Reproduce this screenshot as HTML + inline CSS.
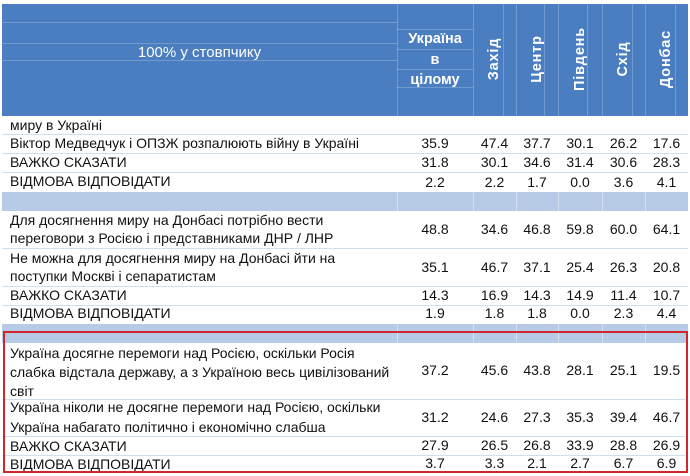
<!DOCTYPE html>
<html>
<head>
<meta charset="utf-8">
<style>
  html,body{margin:0;padding:0;}
  body{width:690px;height:476px;background:#fff;position:relative;overflow:hidden;
       font-family:"Liberation Sans","Noto Sans CJK SC",Arial,sans-serif;color:#111;}
  .a{position:absolute;}
  .hdr{left:2px;top:4px;width:686px;height:112px;background:#4a7ec0;}
  .hl{position:absolute;height:1px;background:rgba(255,255,255,0.22);}
  .vl{position:absolute;width:1px;top:4px;height:112px;background:rgba(255,255,255,0.22);}
  .line{position:absolute;left:2px;width:686px;height:1px;background:#d3deec;}
  .band{position:absolute;left:2px;width:686px;height:19px;background:#b7cbe6;}
  .bv{position:absolute;width:1px;height:19px;background:#d5e1f1;}
  .t{position:absolute;left:10px;height:19px;line-height:19px;font-size:14px;white-space:nowrap;}
  .v{position:absolute;height:19px;line-height:19px;font-size:14px;text-align:center;white-space:nowrap;}
  .c1{left:397px;width:76px;} .c2{left:473px;width:43px;} .c3{left:516px;width:42px;}
  .c4{left:558px;width:44px;} .c5{left:602px;width:43px;} .c6{left:645px;width:43px;}
  .ht{position:absolute;color:#fff;white-space:nowrap;}
  .rot{position:absolute;color:#fff;font-weight:bold;font-size:14.5px;letter-spacing:0.8px;white-space:nowrap;
       transform:translate(-50%,-50%) rotate(-90deg);top:59px;line-height:16px;}
  .red{position:absolute;left:3px;top:331px;width:685px;height:142px;box-sizing:border-box;border:2px solid #d3262c;}
</style>
</head>
<body>
<div class="a hdr"></div>
<!-- header faint grid -->
<div class="hl" style="left:2px;width:395px;top:22px;"></div>
<div class="hl" style="left:2px;width:395px;top:43px;"></div>
<div class="hl" style="left:2px;width:395px;top:60px;"></div>
<div class="hl" style="left:397px;width:76px;top:29px;"></div>
<div class="hl" style="left:397px;width:76px;top:49px;"></div>
<div class="hl" style="left:397px;width:76px;top:69px;"></div>
<div class="hl" style="left:397px;width:76px;top:87px;"></div>
<div class="vl" style="left:397px;"></div>
<div class="vl" style="left:473px;"></div>
<div class="vl" style="left:503px;"></div>
<div class="vl" style="left:516px;"></div>
<div class="vl" style="left:544px;"></div>
<div class="vl" style="left:558px;"></div>
<div class="vl" style="left:587px;"></div>
<div class="vl" style="left:602px;"></div>
<div class="vl" style="left:632px;"></div>
<div class="vl" style="left:645px;"></div>
<div class="vl" style="left:675px;"></div>

<div class="ht" style="left:2px;width:395px;top:44px;line-height:18px;text-align:center;font-size:15px;">100% у стовпчику</div>
<div class="ht" style="left:397px;width:76px;top:29px;line-height:20.5px;text-align:center;font-size:14.5px;font-weight:bold;">Україна<br>в<br>цілому</div>
<div class="rot" style="left:494px;">Захід</div>
<div class="rot" style="left:537px;">Центр</div>
<div class="rot" style="left:580px;">Південь</div>
<div class="rot" style="left:623px;">Схід</div>
<div class="rot" style="left:666px;">Донбас</div>

<!-- row lines -->
<div class="line" style="top:134px;"></div>
<div class="line" style="top:153px;"></div>
<div class="line" style="top:172px;"></div>
<div class="line" style="top:248px;"></div>
<div class="line" style="top:286px;"></div>
<div class="line" style="top:305px;"></div>
<div class="line" style="top:399px;"></div>
<div class="line" style="top:436px;"></div>
<div class="line" style="top:455px;"></div>

<!-- bands -->
<div class="band" style="top:192px;"></div>
<div class="band" style="top:324px;"></div>
<div class="bv" style="left:397px;top:192px;"></div><div class="bv" style="left:473px;top:192px;"></div>
<div class="bv" style="left:516px;top:192px;"></div><div class="bv" style="left:558px;top:192px;"></div>
<div class="bv" style="left:602px;top:192px;"></div><div class="bv" style="left:645px;top:192px;"></div>
<div class="bv" style="left:397px;top:324px;"></div><div class="bv" style="left:473px;top:324px;"></div>
<div class="bv" style="left:516px;top:324px;"></div><div class="bv" style="left:558px;top:324px;"></div>
<div class="bv" style="left:602px;top:324px;"></div><div class="bv" style="left:645px;top:324px;"></div>

<!-- labels -->
<div class="t" style="top:115.5px;">миру в Україні</div>
<div class="t" style="top:134px;">Віктор Медведчук і ОПЗЖ розпалюють війну в Україні</div>
<div class="t" style="top:153px;">ВАЖКО СКАЗАТИ</div>
<div class="t" style="top:172px;">ВІДМОВА ВІДПОВІДАТИ</div>
<div class="t" style="top:211px;">Для досягнення миру на Донбасі потрібно вести</div>
<div class="t" style="top:229px;">переговори з Росією і представниками ДНР / ЛНР</div>
<div class="t" style="top:249px;">Не можна для досягнення миру на Донбасі йти на</div>
<div class="t" style="top:267px;">поступки Москві і сепаратистам</div>
<div class="t" style="top:286px;">ВАЖКО СКАЗАТИ</div>
<div class="t" style="top:304px;">ВІДМОВА ВІДПОВІДАТИ</div>
<div class="t" style="top:343.5px;">Україна досягне перемоги над Росією, оскільки Росія</div>
<div class="t" style="top:362.5px;">слабка відстала державу, а з Україною весь цивілізований</div>
<div class="t" style="top:381.5px;">світ</div>
<div class="t" style="top:397.5px;">Україна ніколи не досягне перемоги над Росією, оскільки</div>
<div class="t" style="top:417.5px;">Україна набагато політично і економічно слабша</div>
<div class="t" style="top:436.5px;">ВАЖКО СКАЗАТИ</div>
<div class="t" style="top:454.5px;">ВІДМОВА ВІДПОВІДАТИ</div>

<!-- values -->
<div class="v c1" style="top:134px;">35.9</div><div class="v c2" style="top:134px;">47.4</div><div class="v c3" style="top:134px;">37.7</div><div class="v c4" style="top:134px;">30.1</div><div class="v c5" style="top:134px;">26.2</div><div class="v c6" style="top:134px;">17.6</div>
<div class="v c1" style="top:153px;">31.8</div><div class="v c2" style="top:153px;">30.1</div><div class="v c3" style="top:153px;">34.6</div><div class="v c4" style="top:153px;">31.4</div><div class="v c5" style="top:153px;">30.6</div><div class="v c6" style="top:153px;">28.3</div>
<div class="v c1" style="top:172.5px;">2.2</div><div class="v c2" style="top:172.5px;">2.2</div><div class="v c3" style="top:172.5px;">1.7</div><div class="v c4" style="top:172.5px;">0.0</div><div class="v c5" style="top:172.5px;">3.6</div><div class="v c6" style="top:172.5px;">4.1</div>

<div class="v c1" style="top:219.5px;">48.8</div><div class="v c2" style="top:219.5px;">34.6</div><div class="v c3" style="top:219.5px;">46.8</div><div class="v c4" style="top:219.5px;">59.8</div><div class="v c5" style="top:219.5px;">60.0</div><div class="v c6" style="top:219.5px;">64.1</div>
<div class="v c1" style="top:257.5px;">35.1</div><div class="v c2" style="top:257.5px;">46.7</div><div class="v c3" style="top:257.5px;">37.1</div><div class="v c4" style="top:257.5px;">25.4</div><div class="v c5" style="top:257.5px;">26.3</div><div class="v c6" style="top:257.5px;">20.8</div>
<div class="v c1" style="top:285.5px;">14.3</div><div class="v c2" style="top:285.5px;">16.9</div><div class="v c3" style="top:285.5px;">14.3</div><div class="v c4" style="top:285.5px;">14.9</div><div class="v c5" style="top:285.5px;">11.4</div><div class="v c6" style="top:285.5px;">10.7</div>
<div class="v c1" style="top:304px;">1.9</div><div class="v c2" style="top:304px;">1.8</div><div class="v c3" style="top:304px;">1.8</div><div class="v c4" style="top:304px;">0.0</div><div class="v c5" style="top:304px;">2.3</div><div class="v c6" style="top:304px;">4.4</div>

<div class="v c1" style="top:360.5px;">37.2</div><div class="v c2" style="top:360.5px;">45.6</div><div class="v c3" style="top:360.5px;">43.8</div><div class="v c4" style="top:360.5px;">28.1</div><div class="v c5" style="top:360.5px;">25.1</div><div class="v c6" style="top:360.5px;">19.5</div>
<div class="v c1" style="top:407.5px;">31.2</div><div class="v c2" style="top:407.5px;">24.6</div><div class="v c3" style="top:407.5px;">27.3</div><div class="v c4" style="top:407.5px;">35.3</div><div class="v c5" style="top:407.5px;">39.4</div><div class="v c6" style="top:407.5px;">46.7</div>
<div class="v c1" style="top:435.5px;">27.9</div><div class="v c2" style="top:435.5px;">26.5</div><div class="v c3" style="top:435.5px;">26.8</div><div class="v c4" style="top:435.5px;">33.9</div><div class="v c5" style="top:435.5px;">28.8</div><div class="v c6" style="top:435.5px;">26.9</div>
<div class="v c1" style="top:453.5px;">3.7</div><div class="v c2" style="top:453.5px;">3.3</div><div class="v c3" style="top:453.5px;">2.1</div><div class="v c4" style="top:453.5px;">2.7</div><div class="v c5" style="top:453.5px;">6.7</div><div class="v c6" style="top:453.5px;">6.9</div>

<div class="red"></div>
</body>
</html>
